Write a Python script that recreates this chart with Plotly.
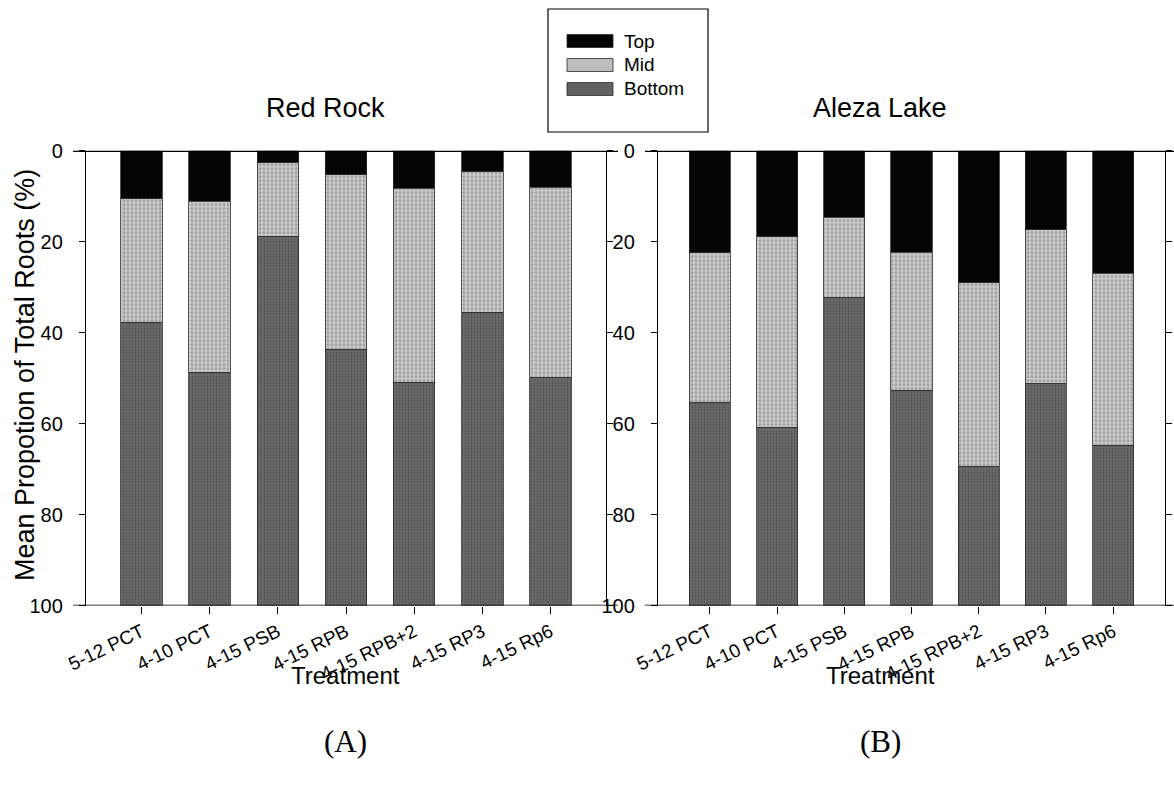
import plotly.graph_objects as go

# Treatments (shared by both sites)
treatments = ["5-12 PCT", "4-10 PCT", "4-15 PSB", "4-15 RPB", "4-15 RPB+2", "4-15 RP3", "4-15 Rp6"]

# Mean proportion of total roots (%) by soil depth — Red Rock
red_top = [10.6, 11.1, 2.6, 5.3, 8.3, 4.6, 8.0]
red_mid = [27.2, 37.7, 16.3, 38.5, 42.7, 31.0, 41.8]
red_bottom = [62.2, 51.2, 81.1, 56.2, 49.0, 64.4, 50.2]

# Mean proportion of total roots (%) by soil depth — Aleza Lake
aleza_top = [22.4, 18.9, 14.6, 22.3, 29.0, 17.4, 26.9]
aleza_mid = [33.0, 42.0, 17.6, 30.5, 40.4, 33.7, 38.0]
aleza_bottom = [44.6, 39.1, 67.8, 47.2, 30.6, 48.9, 35.1]

y_ticks = [0, 20, 40, 60, 80, 100]
layers = ["Top", "Mid", "Bottom"]

W, H = 1174, 808
SANS = "Arial, Liberation Sans, Helvetica, sans-serif"
SERIF = "Times New Roman, Liberation Serif, serif"

styles = {
    "Top": dict(color="#050505", pattern=None, swatch="#050505"),
    "Mid": dict(color="#c0c0c0",
                pattern=dict(shape=".", bgcolor="#cccccc", fgcolor="#707070", size=4, solidity=0.42),
                swatch="#bdbdbd"),
    "Bottom": dict(color="#646464",
                   pattern=dict(shape=".", bgcolor="#707070", fgcolor="#363636", size=3, solidity=0.45),
                   swatch="#626262"),
}


def px_x(p):
    return p / W


def px_y(p):
    return 1 - p / H


fig = go.Figure()

site_data = [
    ("x", "y", {"Top": red_top, "Mid": red_mid, "Bottom": red_bottom}),
    ("x2", "y2", {"Top": aleza_top, "Mid": aleza_mid, "Bottom": aleza_bottom}),
]
for xa, ya, vals in site_data:
    for name in layers:
        st = styles[name]
        marker = dict(color=st["color"], line=dict(color="#2a2a2a", width=0.8))
        if st["pattern"]:
            marker["pattern"] = st["pattern"]
        fig.add_trace(go.Bar(
            x=treatments, y=vals[name], name=name, xaxis=xa, yaxis=ya,
            marker=marker, showlegend=False,
        ))

x_dom_left = [px_x(86), px_x(606)]
x_dom_right = [px_x(658), px_x(1165)]
y_dom = [px_y(605.5), px_y(150.7)]

axis_x = dict(
    type="category", showline=False, ticks="outside", ticklen=7, tickwidth=1.2,
    tickcolor="black", tickangle=-26, tickfont=dict(family=SANS, size=19, color="black"),
    showgrid=False, zeroline=False, automargin=False,
)
axis_y = dict(
    range=[100, 0], tickvals=y_ticks, showline=True, linecolor="black", linewidth=1.4,
    mirror="ticks", ticks="outside", ticklen=6, tickwidth=1.2, tickcolor="black",
    tickfont=dict(family=SANS, size=20, color="black"), showgrid=False, zeroline=False,
    automargin=False, ticklabelstandoff=12,
)

fig.update_layout(
    width=W, height=H, margin=dict(l=0, r=0, t=0, b=0, autoexpand=False),
    paper_bgcolor="white", plot_bgcolor="white", barmode="stack", bargap=0.39,
    showlegend=False,
    xaxis=dict(axis_x, domain=x_dom_left, range=[-0.815, 6.815], anchor="y"),
    xaxis2=dict(axis_x, domain=x_dom_right, range=[-0.77, 6.77], anchor="y2"),
    yaxis=dict(axis_y, domain=y_dom, anchor="x"),
    yaxis2=dict(axis_y, domain=y_dom, anchor="x2"),
)

# Horizontal frame lines at 0 and 100, running slightly past the side axes
for ya, x0, x1 in [("y", 73, 618), ("y2", 645, 1174)]:
    fig.add_shape(type="line", xref="paper", yref=ya, x0=px_x(x0), x1=px_x(x1), y0=0, y1=0,
                  line=dict(color="black", width=2.6))
    fig.add_shape(type="line", xref="paper", yref=ya, x0=px_x(x0), x1=px_x(x1), y0=100, y1=100,
                  line=dict(color="black", width=1.4))

# Panel titles, axis titles and panel letters
texts = [
    ("Red Rock", 325, 108, SANS, 27, 0),
    ("Aleza Lake", 880, 108, SANS, 27, 0),
    ("Treatment", 345, 675, SANS, 24, 0),
    ("Treatment", 880, 675, SANS, 24, 0),
    ("(A)", 345, 741, SERIF, 31, 0),
    ("(B)", 880, 741, SERIF, 31, 0),
    ("Mean Propotion of Total Roots (%)", 25, 375, SANS, 27, -90),
]
for t, cx, cy, fam, sz, ang in texts:
    fig.add_annotation(text=t, xref="paper", yref="paper", x=px_x(cx), y=px_y(cy),
                       showarrow=False, xanchor="center", yanchor="middle", textangle=ang,
                       font=dict(family=fam, size=sz, color="black"))

# Legend box
fig.add_shape(type="rect", xref="paper", yref="paper", x0=px_x(548), x1=px_x(708),
              y0=px_y(132), y1=px_y(9), line=dict(color="black", width=1.2), fillcolor="white")
for i, name in enumerate(layers):
    cy = 41 + i * 24
    fig.add_shape(type="rect", xref="paper", yref="paper", x0=px_x(567), x1=px_x(613),
                  y0=px_y(cy + 6.5), y1=px_y(cy - 6.5), line=dict(color="#2a2a2a", width=0.8),
                  fillcolor=styles[name]["swatch"])
    fig.add_annotation(text=name, xref="paper", yref="paper", x=px_x(622), y=px_y(cy),
                       showarrow=False, xanchor="left", yanchor="middle",
                       font=dict(family=SANS, size=19, color="black"))

fig.write_html("out.html")
